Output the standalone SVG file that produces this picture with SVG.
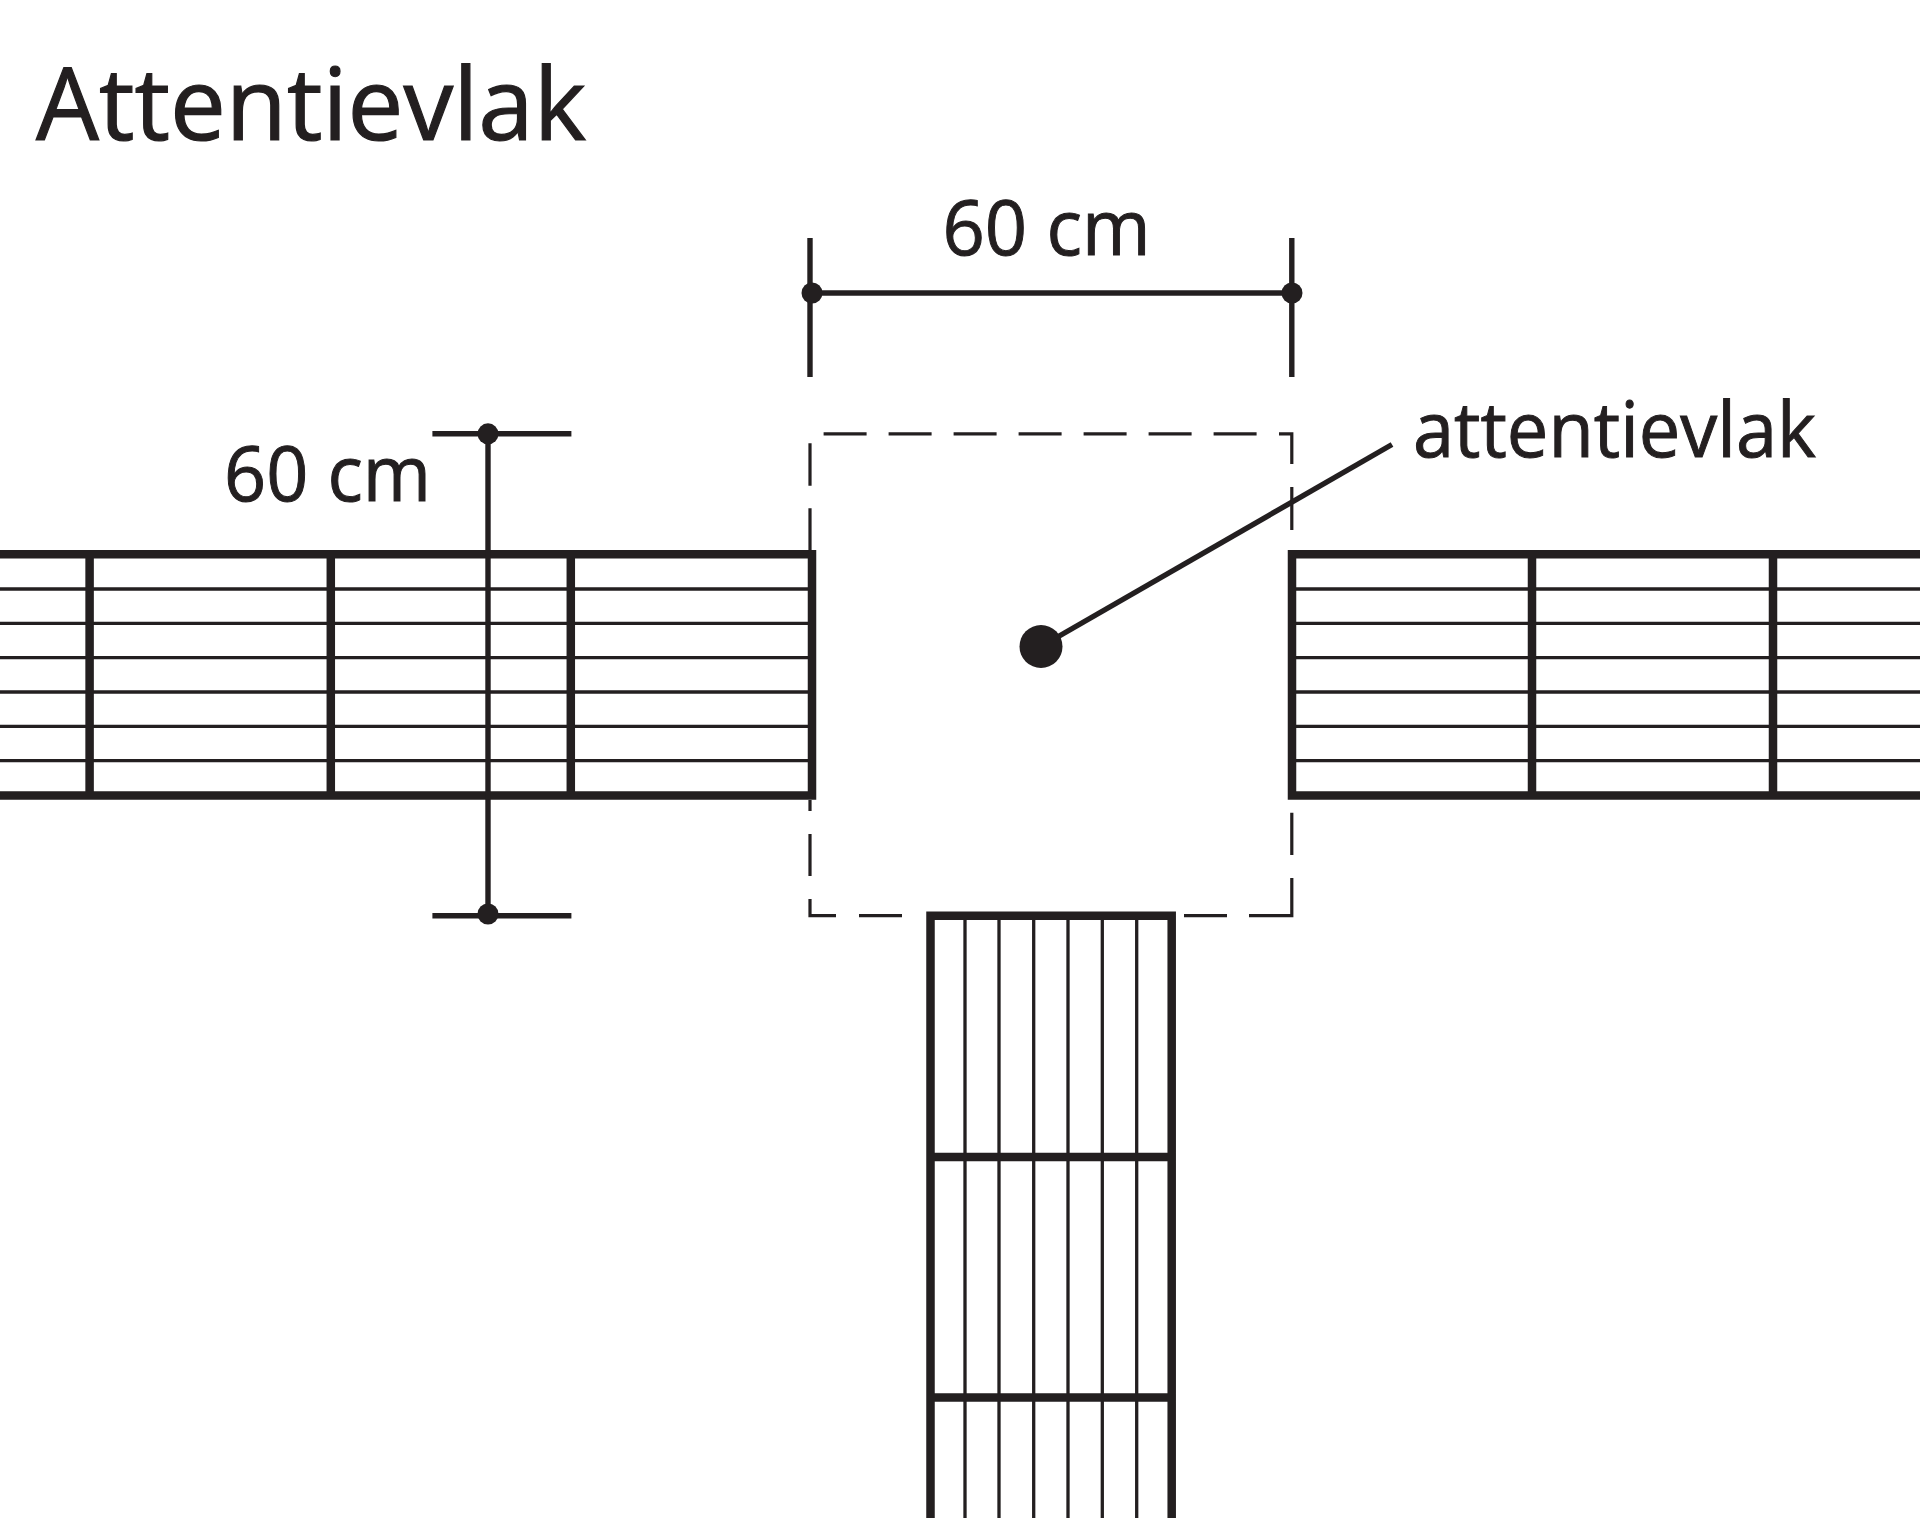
<svg xmlns="http://www.w3.org/2000/svg" width="1920" height="1518" viewBox="0 0 1920 1518">
<style>
text{font-family:"Open Sans","Noto Sans","Liberation Sans",sans-serif;fill:#231f20;stroke:#231f20}
.t{font-size:100px;stroke-width:1.2px}.l{font-size:76px;stroke-width:1px}
line,path{stroke:#231f20;fill:none}
.thick{stroke-width:8.5px}.thin{stroke-width:3.3px}.dim{stroke-width:5.4px}.dash{stroke-width:3.2px}
circle{fill:#231f20}
</style>
<rect width="1920" height="1518" fill="#fff"/>
<g id="left-band">
<path class="thin" d="M0 589H810M0 623.3H810M0 657.7H810M0 692H810M0 726.3H810M0 760.6H810"/>
<path class="thick" d="M0 554.3H812V795.5H0M89.6 554.3V795.5M330.8 554.3V795.5M570.8 554.3V795.5"/>
</g>
<g id="right-band">
<path class="thin" d="M1292 589H1920M1292 623.3H1920M1292 657.7H1920M1292 692H1920M1292 726.3H1920M1292 760.6H1920"/>
<path class="thick" d="M1920 554.3H1292V795.5H1920M1532 554.3V795.5M1773 554.3V795.5"/>
</g>
<g id="bottom-band">
<path class="thin" d="M965 916V1518M999 916V1518M1033.7 916V1518M1068 916V1518M1102.3 916V1518M1136.7 916V1518"/>
<path class="thick" d="M930.5 1518V915.8H1171.7V1518M930.5 1157H1171.7M930.5 1397.5H1171.7"/>
</g>
<g id="attention-area">
<path class="dash" d="M823.6 433.8H866.6M888.6 433.8H931.6M953.6 433.8H996.6M1018.6 433.8H1061.6M1083.6 433.8H1126.6M1148.6 433.8H1191.6M1213.6 433.8H1256.6M1279 433.8H1291.8V464M1291.8 487V530"/>
<path class="dash" d="M810 443.3V485.7M810 508.3V552M810 800V811M810 834V876M810 899V915.7H836M859 915.7H902M1184 915.7H1227M1249 915.7H1291.8V878M1291.8 855V812.7"/>
</g>
<g id="connectors">
<line class="dim" x1="810" y1="238" x2="810" y2="377"/>
<line class="dim" x1="1291.8" y1="238" x2="1291.8" y2="377"/>
<line class="dim" x1="812" y1="293" x2="1292" y2="293"/>
<circle cx="812" cy="293" r="10.5"/>
<circle cx="1292" cy="293" r="10.5"/>
<line class="dim" x1="432.4" y1="433.8" x2="571.4" y2="433.8"/>
<line class="dim" x1="432.4" y1="915.7" x2="571.4" y2="915.7"/>
<line class="dim" x1="488" y1="433.8" x2="488" y2="915"/>
<circle cx="488" cy="433.8" r="10.5"/>
<circle cx="488" cy="914" r="10.5"/>
<line class="dim" x1="1041" y1="646.5" x2="1392" y2="444.5"/>
<circle cx="1041" cy="646.5" r="21.5"/>
</g>
<g id="labels">
<text class="t" x="36" y="140" textLength="550" lengthAdjust="spacingAndGlyphs">Attentievlak</text>
<text class="l" x="942.5" y="254.7" textLength="208" lengthAdjust="spacingAndGlyphs">60 cm</text>
<text class="l" x="224" y="500.8" textLength="207" lengthAdjust="spacingAndGlyphs">60 cm</text>
<text class="l" x="1413" y="456.7" textLength="403" lengthAdjust="spacingAndGlyphs">attentievlak</text>
</g>
</svg>
